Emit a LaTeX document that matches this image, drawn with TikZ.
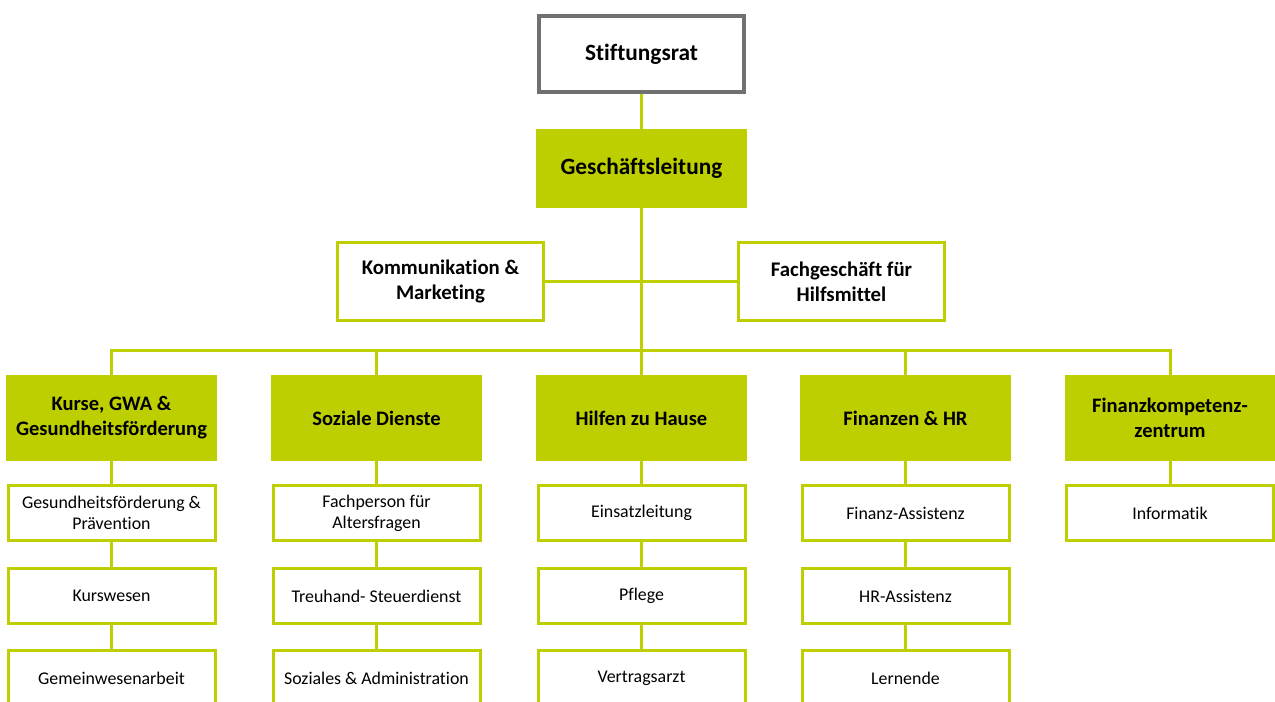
\documentclass[tikz,border=0pt]{standalone}
\usepackage{fontspec}
\setmainfont[Ligatures=NoCommon]{Carlito}
\definecolor{lime}{HTML}{BDCF00}
\definecolor{frame}{HTML}{707070}
\newlength\pxu
\setlength\pxu{0.75pt}
\tikzset{
  head/.style = {
    rectangle, align=center, inner sep=0pt,
    minimum width=211\pxu, minimum height=#1\pxu,
    fill=lime,
    font=\fontsize{15.4}{18.8}\selectfont\bfseries,
  },
  box/.style 2 args = {
    rectangle, align=center, inner sep=0pt,
    minimum width=206\pxu, minimum height=#1\pxu,
    fill=white, draw=#2, line width=3\pxu,
    font=\fontsize{15.6}{18.8}\selectfont\bfseries,
  },
  top/.style = {font=\fontsize{17.5}{20}\selectfont\bfseries},
  unit/.style = {
    rectangle, align=center, inner sep=0pt,
    minimum width=207\pxu, minimum height=55\pxu,
    fill=white, draw=lime, line width=3\pxu,
    font=\fontsize{13.4}{16}\selectfont,
  },
  link/.style = {lime, line width=3\pxu},
}

\begin{document}
\begin{tikzpicture}[x=1\pxu,y=-1\pxu]
  \useasboundingbox (0,0) rectangle (1275,701);
  \clip (0,0) rectangle (1275,701);
  \coordinate (bus) at (641.5,350);
  \node[box={76}{frame},top,line width=4\pxu,minimum width=205\pxu](rat) at (641.5, 54) {Stiftungsrat};
  \node[head={79},top](gl) at (641.5,168.5) {Geschäftsleitung};
  \node[box={78}{lime}](kom)  at (440.5,281.5) {Kommunikation \&\\Marketing};
  \node[box={78}{lime}](fach) at (841.5,281.5) {Fachgeschäft für\\Hilfsmittel};
  \node[head={86}](kurse) at ( 111.5,418) {Kurse, GWA \&\\Gesundheitsförderung};
  \node[head={86}](soz)   at ( 376.5,418) {Soziale Dienste};
  \node[head={86}](hilf)  at ( 641.5,418) {Hilfen zu Hause};
  \node[head={86}](fin)   at ( 905.5,418) {Finanzen \& HR};
  \node[head={86}](fkz)   at (1170.0,418) {Finanzkompetenz-\\zentrum};
  \node[unit](k1) at ( 111.5,513) {Gesundheitsförderung \&\\Prävention};
  \node[unit](k2) at ( 111.5,596) {Kurswesen};
  \node[unit](k3) at ( 111.5,678) {Gemeinwesenarbeit};
  \node[unit](s1) at ( 376.5,513) {Fachperson für\\Altersfragen};
  \node[unit](s2) at ( 376.5,596) {Treuhand- Steuerdienst};
  \node[unit](s3) at ( 376.5,678) {Soziales \& Administration};
  \node[unit](h1) at ( 641.5,513) {Einsatzleitung};
  \node[unit](h2) at ( 641.5,596) {Pflege};
  \node[unit](h3) at ( 641.5,678) {Vertragsarzt};
  \node[unit](f1) at ( 905.5,513) {Finanz-Assistenz};
  \node[unit](f2) at ( 905.5,596) {HR-Assistenz};
  \node[unit](f3) at ( 905.5,678) {Lernende};
  \node[unit](z1) at (1170.0,513) {Informatik};
  \draw[link](rat) -- (gl);
  \draw[link](gl) -- (hilf);
  \draw[link](kom) -- (fach);
  \draw[link](kurse.north) |- (bus) -| (fkz.north);
  \draw[link](soz.north) |- (bus);
  \draw[link](fin.north) |- (bus);
  \draw[link](kurse) -- (k1) (k1) -- (k2) (k2) -- (k3);
  \draw[link](soz) -- (s1) (s1) -- (s2) (s2) -- (s3);
  \draw[link](hilf) -- (h1) (h1) -- (h2) (h2) -- (h3);
  \draw[link](fin) -- (f1) (f1) -- (f2) (f2) -- (f3);
  \draw[link](fkz) -- (z1);
\end{tikzpicture}
\end{document}
